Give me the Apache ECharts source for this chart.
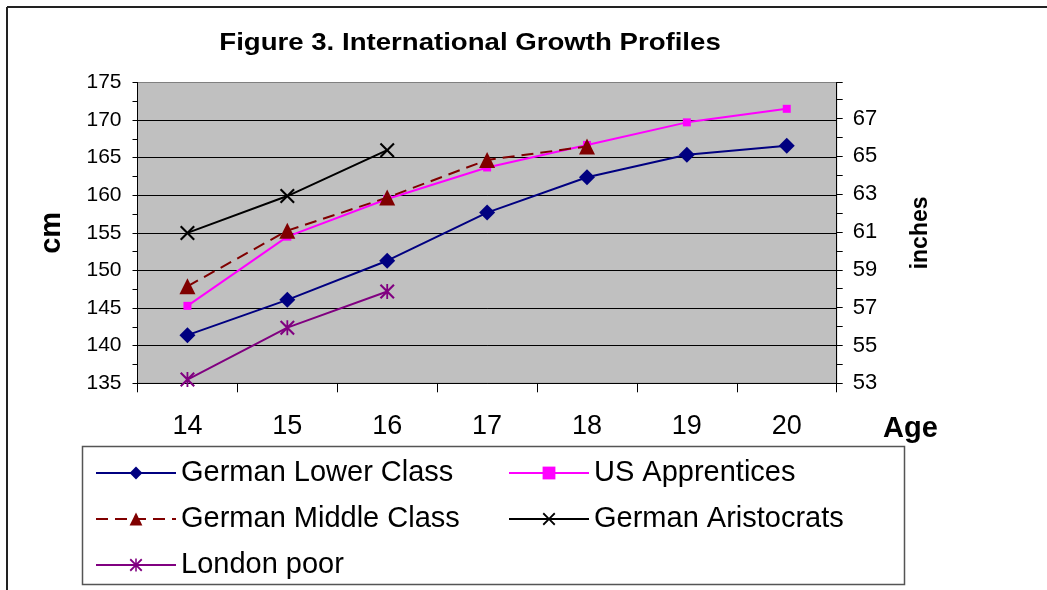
<!DOCTYPE html>
<html>
<head>
<meta charset="utf-8">
<script src="https://cdn.jsdelivr.net/npm/echarts@6/dist/echarts.min.js"></script>
<style>
  html, body { margin: 0; padding: 0; background: #fff; }
  #main { width: 1047px; height: 590px; }
</style>
</head>
<body>
<div id="main"></div>
<script>
// ages on the x axis
var ages = ['14', '15', '16', '17', '18', '19', '20'];
// heights in cm
var germanLower = [141.4, 146.1, 151.3, 157.7, 162.4, 165.4, 166.6];
var usApprentices = [145.3, 154.5, 159.5, 163.7, 166.7, 169.7, 171.5];
var germanMiddle = [147.9, 155.3, 159.7, 164.7, 166.5, null, null];
var germanAristocrats = [155.0, 159.9, 166.0, null, null, null, null];
var londonPoor = [135.5, 142.4, 147.2, null, null, null, null];

var FONT = 'Liberation Sans, Arial, sans-serif';
// x marker and star marker as filled shapes
var crossPath = 'path://M0,1 L1,0 L5,4 L9,0 L10,1 L6,5 L10,9 L9,10 L5,6 L1,10 L0,9 L4,5 Z';
var starPath = 'path://M0,1 L1,0 L5,4 L9,0 L10,1 L6,5 L10,9 L9,10 L5,6 L1,10 L0,9 L4,5 Z M4.4,0 L5.6,0 L5.6,10 L4.4,10 Z';

var chart = echarts.init(document.getElementById('main'));

function line(name, data, color, symbol, size, dashed) {
    return {
        name: name,
        type: 'line',
        data: data,
        symbol: symbol,
        symbolSize: size,
        connectNulls: false,
        lineStyle: { color: color, width: 2, type: dashed ? [12, 7] : 'solid' },
        itemStyle: { color: color },
        emphasis: { disabled: true },
        animation: false
    };
}

var legendText = { color: '#000', fontSize: 29, lineHeight: 30, fontFamily: FONT };

var option = {
    backgroundColor: '#fff',
    textStyle: { fontFamily: FONT },
    grid: {
        left: 137.5, right: 210.3, top: 82.5, bottom: 206.7,
        show: true, backgroundColor: '#c0c0c0', borderColor: '#808080', borderWidth: 1
    },
    xAxis: {
        type: 'category',
        data: ages,
        boundaryGap: true,
        axisLine: { lineStyle: { color: '#000', width: 1 } },
        axisTick: { show: true, length: 9, lineStyle: { color: '#000' } },
        axisLabel: { color: '#000', fontSize: 27, margin: 30, fontFamily: FONT },
        splitLine: { show: false }
    },
    yAxis: [{
        type: 'value',
        min: 135, max: 175, interval: 5,
        position: 'left',
        axisLine: { show: true, lineStyle: { color: '#000' } },
        axisTick: { show: true, length: 5, lineStyle: { color: '#000' } },
        minorTick: { show: true, splitNumber: 2, length: 5, lineStyle: { color: '#000' } },
        axisLabel: { color: '#000', fontSize: 21, margin: 16, fontFamily: FONT },
        splitLine: { show: true, showMinLine: false, showMaxLine: false, lineStyle: { color: '#000', width: 1 } },
        name: 'cm',
        nameLocation: 'middle',
        nameGap: 71,
        nameRotate: 90,
        nameTextStyle: { color: '#000', fontSize: 29, fontWeight: 'bold', fontFamily: FONT }
    }, {
        type: 'value',
        min: 53, max: 68.9, interval: 2,
        position: 'right',
        axisLine: { show: true, lineStyle: { color: '#000' } },
        axisTick: { show: true, length: 6, lineStyle: { color: '#000' } },
        minorTick: { show: true, splitNumber: 2, length: 6, lineStyle: { color: '#000' } },
        axisLabel: { color: '#000', fontSize: 22, margin: 16, fontFamily: FONT, showMaxLabel: false },
        splitLine: { show: false },
        name: 'inches',
        nameLocation: 'middle',
        nameGap: 72,
        nameRotate: 90,
        nameTextStyle: { color: '#000', fontSize: 23, fontWeight: 'bold', fontFamily: FONT }
    }],
    legend: [{
        orient: 'vertical',
        left: 90, top: 453,
        itemWidth: 80, itemHeight: 16,
        itemGap: 16,
        data: ['German Lower Class', 'German Middle Class', 'London poor'],
        textStyle: legendText,
        selectedMode: false
    }, {
        orient: 'vertical',
        left: 503, top: 453,
        itemWidth: 80, itemHeight: 16,
        itemGap: 16,
        data: ['US Apprentices', 'German Aristocrats'],
        textStyle: legendText,
        selectedMode: false
    }],
    graphic: [
        { type: 'line', shape: { x1: 7, y1: 7, x2: 1047, y2: 7 }, style: { stroke: '#222', lineWidth: 2 } },
        { type: 'line', shape: { x1: 7, y1: 7, x2: 7, y2: 590 }, style: { stroke: '#222', lineWidth: 2 } },
        { type: 'rect', shape: { x: 82.5, y: 446.5, width: 822, height: 138 }, style: { fill: 'none', stroke: '#555', lineWidth: 1.5 } },
        { type: 'text', x: 470, y: 43, scaleX: 1.15, style: { text: 'Figure 3. International Growth Profiles', font: 'bold 24px ' + FONT, fill: '#000', align: 'center', verticalAlign: 'middle' } },
        { type: 'text', x: 883, y: 429, style: { text: 'Age', font: 'bold 29px ' + FONT, fill: '#000', align: 'left', verticalAlign: 'middle' } }
    ],
    series: [
        line('German Lower Class', germanLower, '#000080', 'diamond', 16, false),
        line('US Apprentices', usApprentices, '#ff00ff', 'rect', 8, false),
        line('German Middle Class', germanMiddle, '#800000', 'triangle', 16, true),
        line('German Aristocrats', germanAristocrats, '#000000', crossPath, 15, false),
        line('London poor', londonPoor, '#800080', starPath, 15, false)
    ]
};

chart.setOption(option);
</script>
</body>
</html>
